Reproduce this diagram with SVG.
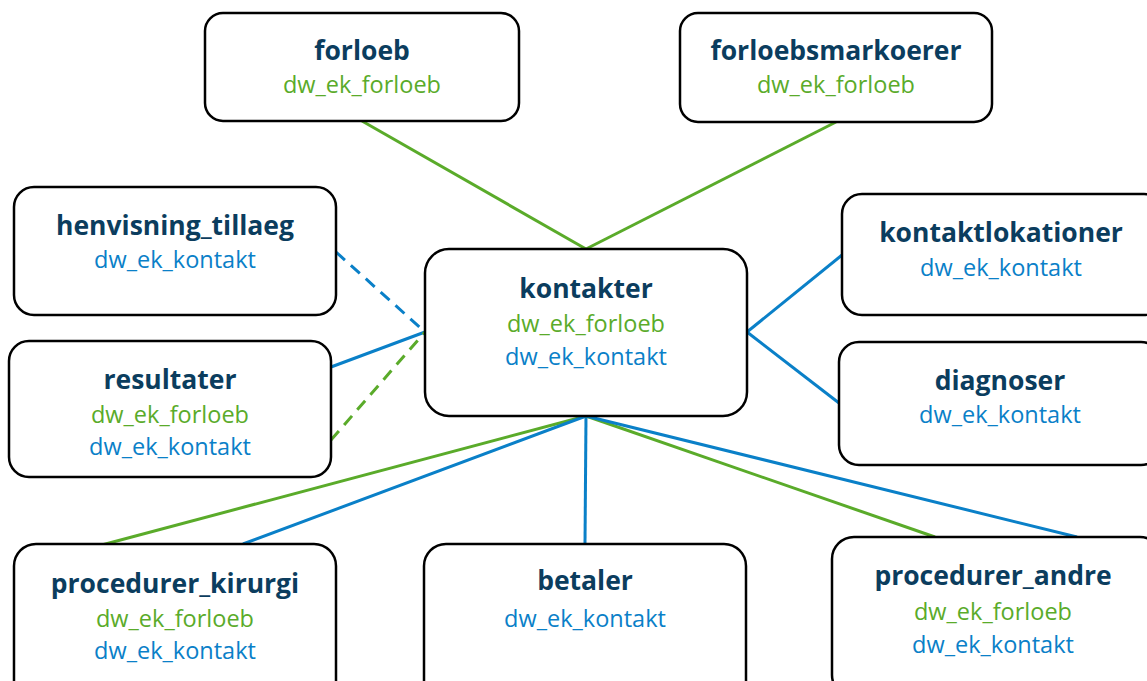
<svg xmlns="http://www.w3.org/2000/svg" width="1147" height="681" viewBox="0 0 1147 681">
<style>
.box{fill:#fff;stroke:#000;stroke-width:2.5}
.t{font-family:"Open Sans","Liberation Sans",sans-serif;font-weight:bold;font-size:26.5px;fill:#0b3d5e;text-anchor:middle}
.g{font-family:"Open Sans","Liberation Sans",sans-serif;font-size:23.5px;fill:#5aab2a;text-anchor:middle}
.b{font-family:"Open Sans","Liberation Sans",sans-serif;font-size:23.5px;fill:#0a80c8;text-anchor:middle}
.lg{stroke:#5aab2a;stroke-width:3;fill:none}
.lb{stroke:#0a80c8;stroke-width:3;fill:none}
.d{stroke-dasharray:12,8}
</style>
<rect width="1147" height="681" fill="#fff"/>
<g id="connectors">
<line class="lg" x1="362" y1="121" x2="586" y2="249"/>
<line class="lg" x1="836" y1="122" x2="586" y2="249"/>
<line class="lb d" x1="336" y1="252" x2="425" y2="332"/>
<line class="lb" x1="331" y1="367" x2="425" y2="332"/>
<line class="lg d" x1="331" y1="440" x2="425" y2="332"/>
<line class="lb" x1="747" y1="332" x2="842" y2="255"/>
<line class="lb" x1="747" y1="332" x2="839" y2="403"/>
<line class="lg" x1="586" y1="416" x2="98" y2="546"/>
<line class="lb" x1="586" y1="416" x2="243" y2="544"/>
<line class="lb" x1="586" y1="416" x2="585" y2="544"/>
<line class="lg" x1="586" y1="416" x2="935" y2="537"/>
<line class="lb" x1="586" y1="416" x2="1077" y2="537"/>
</g>
<g id="forloeb">
<rect class="box" x="205" y="13" width="314" height="108" rx="18"/>
<text class="t" x="362" y="60">forloeb</text>
<text class="g" x="362" y="93">dw_ek_forloeb</text>
</g>
<g id="forloebsmarkoerer">
<rect class="box" x="680" y="13" width="312" height="109" rx="18"/>
<text class="t" x="836" y="60">forloebsmarkoerer</text>
<text class="g" x="836" y="93">dw_ek_forloeb</text>
</g>
<g id="henvisning_tillaeg">
<rect class="box" x="14" y="187" width="322" height="128" rx="20"/>
<text class="t" x="175" y="235">henvisning_tillaeg</text>
<text class="b" x="175" y="268">dw_ek_kontakt</text>
</g>
<g id="resultater">
<rect class="box" x="9" y="341" width="322" height="136" rx="20"/>
<text class="t" x="170" y="389">resultater</text>
<text class="g" x="170" y="423">dw_ek_forloeb</text>
<text class="b" x="170" y="455">dw_ek_kontakt</text>
</g>
<g id="kontakter">
<rect class="box" x="425" y="249" width="322" height="167" rx="24"/>
<text class="t" x="586" y="298">kontakter</text>
<text class="g" x="586" y="332">dw_ek_forloeb</text>
<text class="b" x="586" y="365">dw_ek_kontakt</text>
</g>
<g id="kontaktlokationer">
<rect class="box" x="842" y="194" width="322" height="121" rx="20"/>
<text class="t" x="1001" y="242">kontaktlokationer</text>
<text class="b" x="1001" y="276">dw_ek_kontakt</text>
</g>
<g id="diagnoser">
<rect class="box" x="839" y="342" width="322" height="123" rx="20"/>
<text class="t" x="1000" y="390">diagnoser</text>
<text class="b" x="1000" y="423">dw_ek_kontakt</text>
</g>
<g id="procedurer_kirurgi">
<rect class="box" x="14" y="544" width="322" height="160" rx="22"/>
<text class="t" x="175" y="593">procedurer_kirurgi</text>
<text class="g" x="175" y="627">dw_ek_forloeb</text>
<text class="b" x="175" y="659">dw_ek_kontakt</text>
</g>
<g id="betaler">
<rect class="box" x="424" y="544" width="322" height="160" rx="22"/>
<text class="t" x="585" y="590">betaler</text>
<text class="b" x="585" y="627">dw_ek_kontakt</text>
</g>
<g id="procedurer_andre">
<rect class="box" x="832" y="537" width="330" height="160" rx="22"/>
<text class="t" x="993" y="585">procedurer_andre</text>
<text class="g" x="993" y="620">dw_ek_forloeb</text>
<text class="b" x="993" y="653">dw_ek_kontakt</text>
</g>
</svg>
